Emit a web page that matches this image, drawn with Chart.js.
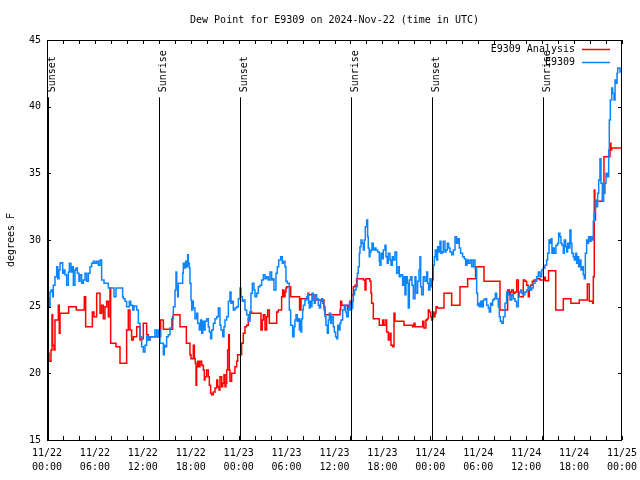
<!DOCTYPE html>
<html>
<head>
<meta charset="utf-8">
<script src="https://cdn.jsdelivr.net/npm/chart.js@4.4.1/dist/chart.umd.min.js"></script>
<style>
  html, body { margin: 0; padding: 0; background: #fff; }
  #wrap { position: relative; width: 640px; height: 480px; }
</style>
</head>
<body>
<div id="wrap"><canvas id="dewChart"></canvas></div>
<script>
// Dew point at E9309, 2024-11-22 00:00 UTC .. 2024-11-25 00:00 UTC.
// x values are hours since 11/22 00:00 UTC, y values are degrees F.

const TITLE = 'Dew Point for E9309 on 2024-Nov-22 (time in UTC)';
const Y_TITLE = 'degrees F';

// x tick labels, one pair per 6 hours
const tickDates = ['11/22', '11/22', '11/22', '11/22', '11/23', '11/23', '11/23',
                   '11/23', '11/24', '11/24', '11/24', '11/24', '11/25'];
const tickTimes = ['00:00', '06:00', '12:00', '18:00', '00:00', '06:00', '12:00',
                   '18:00', '00:00', '06:00', '12:00', '18:00', '00:00'];

// sunrise / sunset markers
const sunHours = [0.13, 14.05, 24.15, 38.05, 48.2, 62.1];
const sunLabels = ['Sunset', 'Sunrise', 'Sunset', 'Sunrise', 'Sunset', 'Sunrise'];
const SUN_MARK_TOP = 40.7;

// E9309 Analysis (red)
const analysisHours = [
  0.0, 0.25, 0.5, 0.63, 0.71, 0.88, 1.0, 1.42, 1.54, 1.63, 2.71, 3.67, 4.67, 4.84,
  5.68, 5.88, 6.22, 6.64, 6.84, 7.05, 7.26, 7.47, 7.68, 7.89, 7.97, 8.64, 9.14, 9.97,
  10.18, 10.39, 10.6, 10.81, 11.23, 11.64, 11.85, 12.06, 12.48, 12.69, 12.9, 14.23,
  14.57, 15.74, 15.82, 16.65, 17.45, 17.9, 18.03, 18.32, 18.45, 18.57, 18.66, 18.74,
  18.87, 19.03, 19.16, 19.37, 19.57, 19.7, 19.79, 19.99, 20.2, 20.33, 20.49, 20.62,
  20.83, 21.04, 21.25, 21.37, 21.54, 21.66, 21.87, 22.0, 22.16, 22.29, 22.41, 22.5,
  22.62, 22.75, 22.83, 22.91, 23.12, 23.54, 23.75, 23.87, 24.37, 24.58, 24.79, 25.0,
  25.21, 25.42, 25.63, 26.79, 26.96, 27.09, 27.3, 27.5, 27.63, 27.84, 28.76, 28.96,
  29.38, 29.51, 29.67, 29.8, 29.92, 30.01, 30.51, 31.63, 31.8, 32.68, 32.76, 33.43,
  34.68, 34.81, 36.69, 36.77, 36.9, 37.65, 37.82, 37.94, 38.15, 38.36, 38.57, 38.77,
  39.61, 39.82, 39.94, 40.44, 40.57, 40.65, 40.86, 41.61, 42.03, 42.19, 42.44, 42.53,
  42.74, 42.95, 43.07, 43.28, 43.45, 43.57, 44.7, 45.78, 45.95, 46.08, 47.04, 47.2,
  47.45, 47.62, 47.75, 47.87, 48.04, 48.16, 48.29, 48.45, 48.58, 48.71, 48.87, 49.71,
  50.67, 51.71, 52.67, 53.67, 54.72, 56.72, 57.68, 57.89, 58.05, 58.18, 58.39, 58.6,
  58.81, 59.02, 59.64, 59.85, 60.06, 60.27, 60.39, 60.56, 60.77, 60.98, 61.31, 61.73,
  62.23, 62.4, 62.8, 63.7, 64.65, 65.6, 66.65, 67.66, 67.9, 68.33, 68.41, 68.53,
  68.6, 68.68, 69.57, 69.74, 70.5, 70.62, 70.7, 70.8, 72.0
];
const analysisDew = [
  20.75, 21.5, 20.9, 21.75, 24.4, 22.1, 21.75, 24.0, 25.1, 23.0, 24.5, 25.0, 24.75, 25.75,
  23.5, 24.6, 24.25, 26.0, 24.5, 25.1, 24.1, 25.0, 25.4, 24.25, 26.4, 22.25, 22.0, 20.75,
  23.25, 24.75, 23.25, 22.5, 22.75, 23.5, 22.5, 22.6, 23.75, 22.9, 22.5, 22.75,
  24.0, 23.3, 24.25, 24.4, 23.5, 22.25, 21.4, 21.1, 22.1, 21.1, 20.75, 19.1,
  20.5, 20.9, 20.5, 20.9, 20.6, 20.25, 19.5, 19.75, 20.25, 19.75, 19.1, 18.5,
  18.4, 18.6, 18.9, 19.5, 19.0, 18.75, 19.75, 19.0, 19.25, 19.9, 19.0, 19.25,
  20.25, 21.75, 22.9, 20.25, 19.4, 20.0, 20.5, 20.9, 21.4, 22.25, 23.0, 23.5,
  23.6, 24.1, 24.6, 24.5, 23.25, 24.0, 24.4, 23.25, 24.25, 24.75, 23.75, 24.6,
  24.75, 25.75, 26.25, 25.75, 26.1, 26.4, 26.5, 25.75, 24.75, 25.6, 26.0, 25.9,
  25.5, 25.0, 24.4, 24.75, 25.4, 25.1, 24.75, 25.1, 25.4, 25.9, 26.5, 26.6,
  27.1, 27.0, 26.25, 27.1, 26.9, 26.0, 25.25, 24.1, 23.6, 24.0, 23.6, 24.0,
  23.1, 22.5, 23.0, 22.1, 22.0, 24.5, 23.9, 23.6, 23.5, 23.75, 23.5, 23.9,
  23.4, 24.0, 24.1, 24.75, 24.6, 24.25, 24.0, 24.6, 24.25, 24.5, 25.0, 24.9,
  26.0, 25.1, 26.5, 27.1, 28.0, 26.9, 24.75, 26.25, 25.9, 26.1, 26.25, 26.0,
  26.1, 27.0, 25.75, 27.0, 26.9, 26.6, 25.75, 26.25, 26.6, 26.9, 27.0, 27.1,
  27.0, 27.2, 26.95, 27.7, 24.75, 25.6, 25.25, 25.5, 26.7, 25.4, 25.25, 27.25,
  33.75, 31.5, 32.9, 33.5, 36.25, 37.25, 36.75, 36.9, 36.9
];

// E9309 observations (blue)
const obsHours = [
  0.0, 0.25, 0.38, 0.5, 0.71, 0.79, 1.0, 1.21, 1.34, 1.5, 1.63, 1.75, 1.96, 2.13,
  2.25, 2.46, 2.67, 2.8, 3.0, 3.17, 3.3, 3.5, 3.63, 3.8, 4.0, 4.13, 4.34, 4.55,
  4.76, 4.97, 5.18, 5.38, 5.59, 5.8, 6.0, 6.22, 6.43, 6.64, 6.84, 7.14, 7.68, 8.39,
  8.64, 9.47, 9.56, 9.77, 9.97, 10.31, 10.48, 10.73, 10.89, 11.23, 11.44, 11.64, 11.85,
  12.06, 12.27, 12.48, 12.69, 12.9, 13.52, 13.73, 13.94, 14.15, 14.57, 14.69, 14.78,
  14.98, 15.19, 15.4, 15.61, 15.82, 16.03, 16.15, 16.24, 16.36, 16.44, 16.99, 17.07,
  17.2, 17.36, 17.49, 17.61, 17.7, 17.82, 17.9, 18.03, 18.12, 18.24, 18.32, 18.53,
  18.74, 18.87, 19.07, 19.24, 19.37, 19.5, 19.66, 19.79, 19.99, 20.2, 20.33, 20.49,
  20.62, 20.83, 21.04, 21.25, 21.45, 21.66, 21.79, 22.0, 22.16, 22.29, 22.5, 22.71,
  22.91, 23.04, 23.21, 23.33, 23.54, 23.75, 23.96, 24.17, 24.29, 24.46, 24.58, 24.79,
  25.0, 25.21, 25.42, 25.54, 25.71, 25.92, 26.04, 26.25, 26.46, 26.67, 26.88, 27.09,
  27.3, 27.5, 27.71, 27.92, 28.13, 28.26, 28.42, 28.67, 28.84, 29.01, 29.26, 29.46,
  29.59, 29.8, 29.92, 30.09, 30.34, 30.51, 30.76, 30.93, 31.05, 31.18, 31.34, 31.47,
  31.6, 31.68, 31.8, 31.89, 32.01, 32.1, 32.3, 32.51, 32.64, 32.76, 32.85, 32.93,
  33.06, 33.18, 33.35, 33.47, 33.6, 33.76, 33.97, 34.1, 34.26, 34.39, 34.52, 34.68,
  34.81, 34.93, 35.1, 35.23, 35.35, 35.52, 35.64, 35.85, 35.98, 36.14, 36.27, 36.4,
  36.56, 36.69, 36.81, 37.02, 37.23, 37.4, 37.52, 37.73, 37.86, 38.02, 38.15, 38.27,
  38.36, 38.52, 38.69, 38.86, 38.98, 39.11, 39.19, 39.32, 39.44, 39.61, 39.73, 39.86,
  40.03, 40.15, 40.23, 40.35, 40.44, 40.57, 40.69, 40.86, 41.02, 41.19, 41.4, 41.61,
  41.69, 41.82, 41.99, 42.11, 42.32, 42.45, 42.61, 42.74, 42.95, 43.07, 43.24, 43.36,
  43.57, 43.78, 43.99, 44.11, 44.28, 44.53, 44.7, 44.82, 44.95, 45.12, 45.24, 45.37,
  45.54, 45.7, 45.87, 46.08, 46.2, 46.41, 46.58, 46.7, 46.79, 46.91, 47.12, 47.33,
  47.54, 47.66, 47.79, 47.95, 48.08, 48.2, 48.37, 48.5, 48.62, 48.79, 48.91, 49.04,
  49.21, 49.33, 49.5, 49.62, 49.83, 49.96, 50.13, 50.29, 50.46, 50.67, 50.88, 51.09,
  51.29, 51.46, 51.63, 51.79, 52.04, 52.25, 52.42, 52.59, 52.75, 52.96, 53.17, 53.38,
  53.59, 53.8, 53.92, 54.01, 54.13, 54.3, 54.47, 54.63, 54.84, 55.05, 55.26, 55.38,
  55.55, 55.68, 55.8, 55.97, 56.14, 56.3, 56.51, 56.64, 56.76, 56.93, 57.14, 57.35,
  57.55, 57.76, 57.97, 58.18, 58.39, 58.6, 58.81, 59.02, 59.14, 59.31, 59.43, 59.64,
  59.85, 60.06, 60.27, 60.48, 60.68, 60.89, 61.1, 61.31, 61.52, 61.73, 61.94, 62.15,
  62.35, 62.56, 62.69, 62.86, 62.98, 63.11, 63.23, 63.4, 63.52, 63.73, 63.94, 64.07,
  64.23, 64.36, 64.48, 64.65, 64.77, 64.94, 65.07, 65.19, 65.36, 65.48, 65.61, 65.73,
  65.9, 66.03, 66.19, 66.32, 66.44, 66.57, 66.74, 66.86, 66.99, 67.15, 67.28, 67.41,
  67.57, 67.7, 67.82, 67.99, 68.11, 68.24, 68.41, 68.53, 68.66, 68.83, 68.95, 69.08,
  69.24, 69.37, 69.54, 69.7, 69.87, 70.0, 70.16, 70.33, 70.41, 70.54, 70.71, 70.83,
  71.0, 71.13, 71.25, 71.38, 71.46, 71.59, 71.75, 71.9
];
const obsDew = [
  23.25, 25.6, 25.0, 26.1, 26.25, 25.75, 26.6, 27.25, 28.0, 27.1, 27.75, 28.25, 28.3, 27.5,
  27.75, 27.4, 26.6, 27.6, 28.25, 27.6, 28.0, 26.6, 27.75, 27.9, 27.5, 26.9, 27.4, 26.75,
  27.0, 27.5, 26.9, 27.5, 28.0, 28.25, 28.4, 28.25, 28.4, 28.1, 28.5, 27.0, 26.75, 26.4,
  25.75, 26.4, 25.75, 25.6, 25.4, 25.0, 25.4, 25.1, 24.75, 25.05, 24.75, 23.75, 22.75,
  22.0, 21.6, 22.1, 22.75, 22.5, 22.75, 23.25, 22.75, 23.25, 22.25, 21.4, 22.1,
  22.0, 22.75, 22.9, 23.4, 24.1, 25.0, 26.25, 27.6, 26.4, 25.75, 26.75, 27.5,
  28.25, 27.9, 28.4, 28.0, 28.9, 28.25, 27.9, 26.75, 25.5, 24.75, 25.4, 24.9,
  24.1, 24.5, 23.75, 23.25, 24.0, 23.0, 23.9, 23.25, 23.9, 24.1, 23.5, 23.1,
  22.6, 23.25, 23.75, 24.1, 24.25, 24.9, 23.6, 23.25, 22.75, 23.5, 24.0, 24.25,
  25.4, 26.1, 25.25, 25.4, 24.75, 24.9, 25.0, 25.6, 26.4, 25.75, 25.4, 25.5,
  24.75, 24.4, 23.9, 24.6, 26.0, 26.75, 26.25, 25.75, 26.0, 26.5, 26.6, 27.0,
  27.4, 27.1, 27.25, 27.0, 27.6, 27.0, 27.1, 26.25, 27.5, 28.0, 28.5, 28.75,
  28.25, 28.4, 28.0, 26.9, 26.75, 24.75, 23.6, 22.75, 23.5, 24.0, 24.4, 23.9,
  24.1, 23.25, 24.0, 23.1, 24.1, 24.75, 25.1, 25.5, 25.75, 25.9, 25.25, 24.9,
  25.4, 25.0, 26.0, 25.5, 25.25, 25.9, 25.6, 25.1, 24.9, 25.4, 25.6, 25.25,
  24.75, 24.25, 23.6, 23.0, 24.0, 24.5, 23.75, 24.25, 23.5, 23.1, 22.75, 22.6,
  23.6, 23.25, 23.75, 24.0, 24.75, 25.1, 24.6, 24.25, 24.9, 25.25, 24.75, 24.9,
  25.4, 25.9, 26.25, 26.5, 27.5, 28.0, 29.0, 29.5, 30.0, 29.75, 29.25, 30.0,
  31.0, 31.5, 30.25, 29.4, 28.75, 29.1, 29.25, 29.75, 29.25, 29.4, 29.25, 29.1,
  28.4, 28.1, 29.0, 28.6, 29.25, 29.6, 28.75, 28.25, 29.0, 28.5, 28.1, 28.75,
  28.5, 29.1, 27.5, 28.0, 27.25, 27.4, 26.6, 27.25, 25.9, 27.25, 26.75, 24.9,
  27.0, 27.25, 26.6, 25.6, 27.25, 26.0, 26.9, 27.75, 28.75, 26.5, 25.9, 27.25,
  26.9, 27.6, 26.75, 26.25, 27.1, 26.5, 27.0, 28.1, 28.75, 29.25, 28.5, 29.5,
  29.1, 29.9, 29.0, 29.1, 29.9, 29.1, 29.25, 29.75, 29.4, 29.1, 28.9, 29.25,
  30.25, 29.75, 30.1, 29.4, 29.0, 28.75, 28.6, 28.1, 28.5, 28.25, 28.5, 28.0,
  28.5, 27.9, 26.0, 25.1, 25.25, 25.0, 25.4, 25.0, 25.5, 25.6, 25.1, 24.9,
  24.6, 25.25, 25.1, 25.5, 25.6, 26.0, 25.6, 25.0, 24.25, 23.9, 23.75, 24.25,
  25.25, 26.1, 25.9, 25.5, 25.9, 25.6, 25.4, 25.0, 25.75, 26.1, 26.25, 26.0,
  25.9, 26.1, 26.25, 26.5, 26.25, 26.4, 26.75, 26.9, 27.25, 27.6, 27.25, 27.75,
  27.9, 28.1, 28.5, 29.0, 30.0, 29.75, 30.1, 29.0, 29.4, 29.0, 29.6, 29.75,
  30.5, 30.25, 29.75, 29.6, 29.0, 30.0, 29.5, 29.1, 29.75, 29.4, 30.75, 29.75,
  29.0, 28.75, 28.5, 29.0, 28.25, 28.75, 28.0, 28.5, 27.75, 28.0, 27.4, 27.1,
  29.0, 30.0, 29.75, 30.25, 29.9, 30.25, 30.0, 31.4, 32.0, 33.0, 32.5, 33.5,
  34.5, 36.1, 34.25, 32.9, 33.5, 34.25, 35.0, 34.75, 36.75, 39.0, 40.5, 41.4,
  41.0, 40.5, 42.0, 41.75, 42.5, 42.9, 42.9, 42.6
];

const RED = '#ff0000';
const BLUE = '#0a84ff';
const FONT_FAMILY = '"DejaVu Sans Mono", "Liberation Mono", monospace';
const FONT = '10px ' + FONT_FAMILY;

function toPoints(xs, ys) {
  return xs.map(function (h, i) { return { x: h, y: ys[i] }; });
}

// gnuplot-style decorations: frame with inward ticks, sun markers, title, legend
const gnuplotDecor = {
  id: 'gnuplotDecor',
  afterDatasetsDraw: function (chart) {
    const ctx = chart.ctx;
    const a = chart.chartArea;
    const xs = chart.scales.x;
    const ys = chart.scales.y;
    ctx.save();
    ctx.strokeStyle = '#000';
    ctx.fillStyle = '#000';
    ctx.lineWidth = 1;
    ctx.font = FONT;

    // sunrise / sunset vertical lines with rotated labels
    const topY = ys.getPixelForValue(SUN_MARK_TOP);
    sunHours.forEach(function (h, i) {
      const px = Math.round(xs.getPixelForValue(h)) + 0.5;
      ctx.beginPath();
      ctx.moveTo(px, topY);
      ctx.lineTo(px, a.bottom);
      ctx.stroke();
      ctx.save();
      ctx.translate(px + 6, topY - 5);
      ctx.rotate(-Math.PI / 2);
      ctx.textAlign = 'left';
      ctx.textBaseline = 'alphabetic';
      ctx.fillText(sunLabels[i], 0, 0);
      ctx.restore();
    });

    // frame
    ctx.strokeRect(a.left + 0.5, a.top + 0.5, a.right - a.left - 1, a.bottom - a.top);

    // inward tick marks on all four sides
    ctx.beginPath();
    xs.ticks.forEach(function (t) {
      const px = Math.round(xs.getPixelForValue(t.value)) + 0.5;
      ctx.moveTo(px, a.bottom);
      ctx.lineTo(px, a.bottom - 4);
      ctx.moveTo(px, a.top);
      ctx.lineTo(px, a.top + 4);
    });
    ys.ticks.forEach(function (t) {
      const py = Math.round(ys.getPixelForValue(t.value)) + 0.5;
      ctx.moveTo(a.left, py);
      ctx.lineTo(a.left + 4, py);
      ctx.moveTo(a.right, py);
      ctx.lineTo(a.right - 4, py);
    });
    ctx.stroke();

    // title
    ctx.textAlign = 'center';
    ctx.textBaseline = 'middle';
    ctx.fillText(TITLE, (a.left + a.right) / 2, 20);

    // y axis title
    ctx.save();
    ctx.translate(11, (a.top + a.bottom) / 2);
    ctx.rotate(-Math.PI / 2);
    ctx.fillText(Y_TITLE, 0, 0);
    ctx.restore();

    // legend (top right, text right-aligned, sample line after it)
    ctx.textAlign = 'right';
    chart.data.datasets.forEach(function (ds, i) {
      const ly = 49 + i * 13;
      ctx.fillStyle = '#000';
      ctx.fillText(ds.label, a.right - 47, ly);
      ctx.strokeStyle = ds.borderColor;
      ctx.lineWidth = 1.5;
      ctx.beginPath();
      ctx.moveTo(a.right - 40, ly + 0.5);
      ctx.lineTo(a.right - 12, ly + 0.5);
      ctx.stroke();
    });
    ctx.restore();
  }
};

const tickFont = { family: FONT_FAMILY, size: 10, lineHeight: 1.4 };

new Chart(document.getElementById('dewChart'), {
  type: 'line',
  data: {
    datasets: [
      {
        label: 'E9309 Analysis',
        data: toPoints(analysisHours, analysisDew),
        borderColor: RED,
        borderWidth: 1.5,
        pointRadius: 0,
        stepped: 'after',
        fill: false,
        order: 2
      },
      {
        label: 'E9309',
        data: toPoints(obsHours, obsDew),
        borderColor: BLUE,
        borderWidth: 1.5,
        pointRadius: 0,
        stepped: 'after',
        fill: false,
        order: 1
      }
    ]
  },
  plugins: [gnuplotDecor],
  options: {
    responsive: true,
    maintainAspectRatio: false,
    animation: false,
    events: [],
    layout: { padding: { top: 40, right: 18, left: 0, bottom: 0 } },
    plugins: {
      legend: { display: false },
      title: { display: false },
      tooltip: { enabled: false }
    },
    scales: {
      x: {
        type: 'linear',
        min: 0,
        max: 72,
        grid: { display: false, drawTicks: false },
        border: { display: false },
        afterFit: function (s) {
          // plot box is fixed by layout padding; labels may overhang into it
          s.height = 40;
          s.paddingLeft = 0;
          s.paddingRight = 0;
        },
        ticks: {
          stepSize: 2,
          autoSkip: false,
          maxRotation: 0,
          padding: 6,
          color: '#000',
          font: tickFont,
          callback: function (v) {
            if (v % 6 !== 0) { return ''; }
            return [tickDates[v / 6], tickTimes[v / 6]];
          }
        }
      },
      y: {
        min: 15,
        max: 45,
        grid: { display: false, drawTicks: false },
        border: { display: false },
        afterFit: function (s) {
          s.width = 47;
          s.paddingTop = 0;
          s.paddingBottom = 0;
        },
        ticks: {
          stepSize: 5,
          padding: 6,
          color: '#000',
          font: tickFont
        }
      }
    }
  }
});
</script>
</body>
</html>
